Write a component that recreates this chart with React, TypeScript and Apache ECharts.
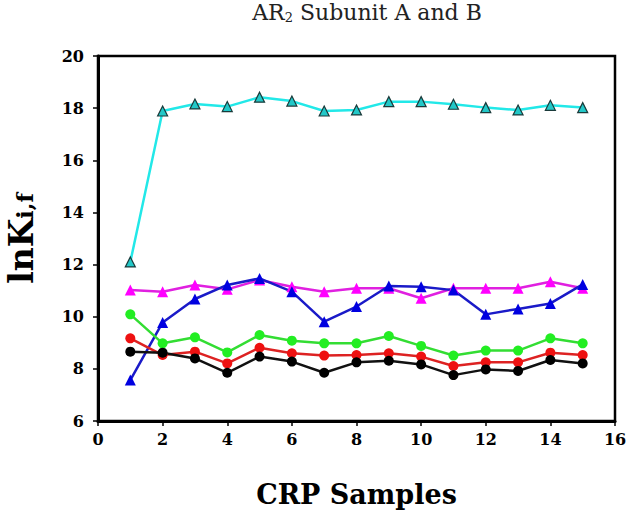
import React, { useEffect, useRef } from "react";
import * as echarts from "echarts";

const samples = [1, 2, 3, 4, 5, 6, 7, 8, 9, 10, 11, 12, 13, 14, 15];
const cyanSeries = [12.1, 17.89, 18.16, 18.06, 18.42, 18.27, 17.89, 17.93, 18.25, 18.25, 18.15, 18.02, 17.93, 18.11, 18.02];
const magentaSeries = [11.02, 10.96, 11.22, 11.05, 11.41, 11.15, 10.96, 11.09, 11.09, 10.71, 11.09, 11.09, 11.09, 11.34, 11.09];
const blueSeries = [7.57, 9.78, 10.68, 11.22, 11.47, 10.96, 9.81, 10.39, 11.18, 11.15, 11.02, 10.09, 10.3, 10.51, 11.24];
const greenSeries = [10.09, 8.98, 9.21, 8.63, 9.3, 9.08, 8.98, 8.98, 9.26, 8.88, 8.51, 8.7, 8.7, 9.17, 8.98];
const redSeries = [9.17, 8.53, 8.66, 8.21, 8.81, 8.6, 8.51, 8.53, 8.6, 8.47, 8.11, 8.25, 8.25, 8.62, 8.53];
const blackSeries = [8.66, 8.62, 8.4, 7.85, 8.47, 8.28, 7.85, 8.25, 8.31, 8.17, 7.76, 7.98, 7.92, 8.34, 8.21];

const FONT = "'DejaVu Serif', serif";

export default function App() {
  const ref = useRef<HTMLDivElement>(null);
  useEffect(() => {
    if (!ref.current) return;
    const chart = echarts.init(ref.current, null, { renderer: "svg" });
    const pts = (vals: number[]) => samples.map((s, i) => [s, vals[i]]);
    const mk = (name: string, vals: number[], color: string, symbol: string, opts: any = {}) => ({
      name,
      type: "line",
      data: pts(vals),
      symbol,
      symbolSize: opts.size ?? 10,
      lineStyle: { color: opts.line ?? color, width: 2.5 },
      itemStyle: { color, borderColor: opts.border ?? color, borderWidth: opts.bw ?? 0 },
      z: opts.z ?? 2,
    });
    chart.setOption({
      animation: false,
      backgroundColor: "#fff",
      title: {
        text: "AR{sub|2} Subunit A and B",
        left: 362,
        textAlign: "center",
        top: -4,
        textStyle: {
          fontFamily: FONT,
          fontWeight: "normal",
          fontSize: 22,
          color: "#222",
          rich: { sub: { fontFamily: FONT, fontSize: 13, padding: [10, 0, 0, 0], color: "#222" } },
        },
      },
      grid: {
        left: 98,
        right: 18,
        top: 56,
        bottom: 92,
        outerBoundsMode: "none",
        containLabel: false,
        show: true,
        borderColor: "#000",
        borderWidth: 2.5,
        backgroundColor: "transparent",
      },
      xAxis: {
        type: "value",
        min: 0,
        max: 16,
        interval: 2,
        name: "CRP Samples",
        nameLocation: "middle",
        nameGap: 60,
        nameTextStyle: { fontFamily: FONT, fontWeight: "bold", fontSize: 27, color: "#000" },
        axisLine: { show: true, onZero: false, lineStyle: { color: "#000", width: 3 } },
        axisTick: { show: true, length: 5, lineStyle: { color: "#000", width: 1.5 } },
        axisLabel: { fontFamily: FONT, fontWeight: "bold", fontSize: 16, color: "#000", margin: 10 },
        splitLine: { show: false },
      },
      yAxis: {
        type: "value",
        min: 6,
        max: 20,
        interval: 2,
        name: "lnK{sub|i,f}",
        nameLocation: "middle",
        nameGap: 60,
        nameRotate: 90,
        nameTextStyle: {
          fontFamily: FONT,
          fontWeight: "bold",
          fontSize: 33,
          color: "#000",
          rich: { sub: { fontFamily: FONT, fontWeight: "bold", fontSize: 22, color: "#000", padding: [6, 0, 0, 0] } },
        },
        axisLine: { show: true, onZero: false, lineStyle: { color: "#000", width: 3 } },
        axisTick: { show: true, length: 5, lineStyle: { color: "#000", width: 1.5 } },
        axisLabel: { fontFamily: FONT, fontWeight: "bold", fontSize: 16, color: "#000", margin: 14 },
        splitLine: { show: false },
      },
      series: [
        mk("cyan", cyanSeries, "#22c8c8", "triangle", { line: "#22e8e8", border: "#1a3a3a", bw: 1.2, size: 10 }),
        mk("magenta", magentaSeries, "#ff00ff", "triangle", { line: "#e020e0", size: 11 }),
        mk("blue", blueSeries, "#0000e0", "triangle", { line: "#1a1ac8", size: 11 }),
        mk("green", greenSeries, "#22ee22", "circle", { line: "#33dd33", size: 10 }),
        mk("red", redSeries, "#ee1111", "circle", { line: "#dd2222", size: 10 }),
        mk("black", blackSeries, "#000000", "circle", { line: "#111111", size: 10 }),
      ],
    });
    return () => chart.dispose();
  }, []);
  return <div ref={ref} style={{ position: "absolute", left: 0, top: 0, width: 633, height: 513 }} />;
}
